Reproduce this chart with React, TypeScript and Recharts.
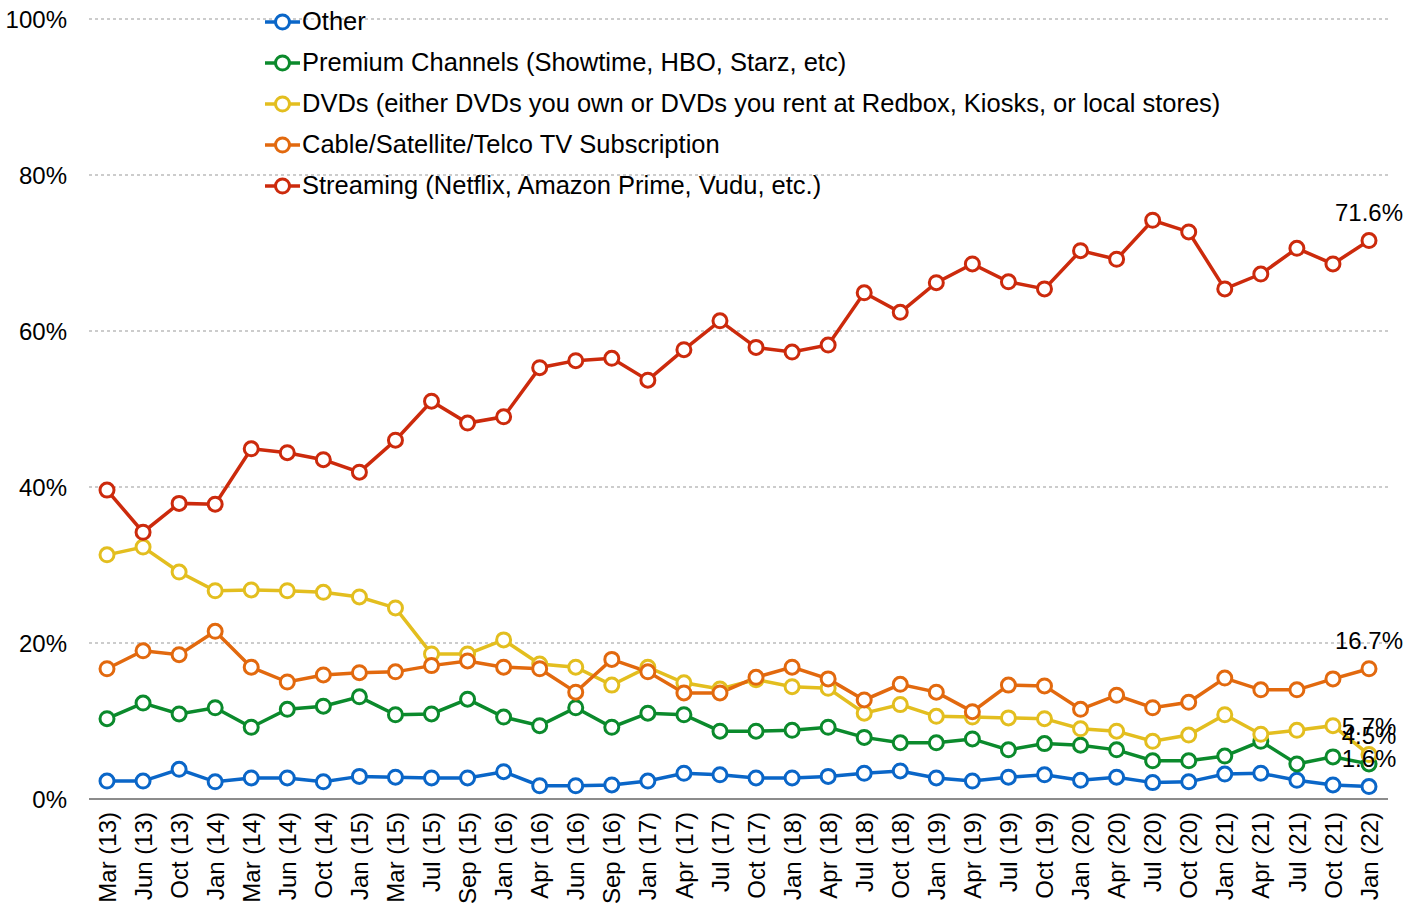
import React from 'react';
import { LineChart, Line, XAxis, YAxis, CartesianGrid } from 'recharts';

const categories = [
  'Mar (13)', 'Jun (13)', 'Oct (13)', 'Jan (14)', 'Mar (14)', 'Jun (14)', 'Oct (14)', 'Jan (15)', 'Mar (15)',
  'Jul (15)', 'Sep (15)', 'Jan (16)', 'Apr (16)', 'Jun (16)', 'Sep (16)', 'Jan (17)', 'Apr (17)', 'Jul (17)',
  'Oct (17)', 'Jan (18)', 'Apr (18)', 'Jul (18)', 'Oct (18)', 'Jan (19)', 'Apr (19)', 'Jul (19)', 'Oct (19)',
  'Jan (20)', 'Apr (20)', 'Jul (20)', 'Oct (20)', 'Jan (21)', 'Apr (21)', 'Jul (21)', 'Oct (21)', 'Jan (22)',
];

const other = [
  2.3, 2.3, 3.8, 2.2, 2.7, 2.7, 2.2, 2.9, 2.8, 2.7, 2.7, 3.5, 1.7, 1.7, 1.8, 2.3, 3.3, 3.1,
  2.7, 2.7, 2.9, 3.3, 3.6, 2.7, 2.3, 2.8, 3.1, 2.4, 2.8, 2.1, 2.2, 3.2, 3.3, 2.4, 1.8, 1.6,
];

const premium = [
  10.3, 12.3, 10.9, 11.7, 9.2, 11.5, 11.9, 13.1, 10.8, 10.9, 12.8, 10.5, 9.4, 11.7, 9.2, 11.0, 10.8, 8.7,
  8.7, 8.8, 9.2, 7.9, 7.2, 7.2, 7.7, 6.3, 7.1, 6.9, 6.3, 4.9, 4.9, 5.5, 7.4, 4.5, 5.4, 4.5,
];

const dvds = [
  31.3, 32.3, 29.1, 26.7, 26.8, 26.7, 26.5, 25.9, 24.5, 18.6, 18.6, 20.4, 17.3, 16.9, 14.6, 16.9, 14.9, 14.1,
  15.3, 14.4, 14.2, 11.0, 12.1, 10.6, 10.5, 10.4, 10.3, 9.0, 8.7, 7.4, 8.2, 10.8, 8.3, 8.8, 9.4, 5.7,
];

const cable = [
  16.7, 19.0, 18.5, 21.5, 16.9, 15.0, 15.9, 16.2, 16.3, 17.1, 17.7, 16.9, 16.7, 13.7, 17.9, 16.3, 13.6, 13.6,
  15.6, 16.9, 15.4, 12.7, 14.7, 13.7, 11.2, 14.6, 14.5, 11.5, 13.3, 11.7, 12.4, 15.5, 14.0, 14.0, 15.4, 16.7,
];

const streaming = [
  39.6, 34.2, 37.9, 37.8, 44.9, 44.4, 43.5, 41.9, 46.0, 51.0, 48.2, 49.0, 55.3, 56.2, 56.5, 53.7, 57.6, 61.3,
  57.9, 57.3, 58.2, 64.9, 62.4, 66.2, 68.6, 66.3, 65.4, 70.3, 69.2, 74.2, 72.7, 65.4, 67.3, 70.6, 68.6, 71.6,
];

const yTicks = [0, 20, 40, 60, 80, 100];

const series = [
  { key: 'other', name: 'Other', color: '#0A66C8', values: other },
  { key: 'premium', name: 'Premium Channels (Showtime, HBO, Starz, etc)', color: '#0B8A2C', values: premium },
  { key: 'dvds', name: 'DVDs (either DVDs you own or DVDs you rent at Redbox, Kiosks, or local stores)', color: '#E3BE1F', values: dvds },
  { key: 'cable', name: 'Cable/Satellite/Telco TV Subscription', color: '#E2690E', values: cable },
  { key: 'streaming', name: 'Streaming (Netflix, Amazon Prime, Vudu, etc.)', color: '#CC2A0C', values: streaming },
];

const data = categories.map((name, i) => {
  const row: Record<string, any> = { name };
  series.forEach((s) => { row[s.key] = s.values[i]; });
  return row;
});

const FONT = 'Arial, "Liberation Sans", sans-serif';

const XTick = ({ x, y, payload }: any) => (
  <g transform={`translate(${x},${y})`}>
    <text transform="rotate(-90)" x={-13} dy="0.36em" textAnchor="end" fontSize={24} fill="#000" fontFamily={FONT}>
      {payload.value}
    </text>
  </g>
);

const EndLabel = ({ x, y, index, value }: any) => {
  if (index !== categories.length - 1) return null;
  return (
    <text x={x} y={y - 20} textAnchor="middle" fontSize={24} fill="#000" fontFamily={FONT}>
      {`${Number(value).toFixed(1)}%`}
    </text>
  );
};

const App = () => {
  return (
    <div style={{ position: 'absolute', left: 0, top: 0, width: 1419, height: 909, background: '#fff', fontFamily: FONT }}>
      <LineChart width={1419} height={909} data={data} margin={{ top: 19, right: 31, bottom: 0, left: 0 }}>
        <CartesianGrid vertical={false} stroke="#999" strokeDasharray="3 3" />
        <XAxis
          dataKey="name"
          interval={0}
          height={110}
          padding={{ left: 18, right: 19 }}
          tickLine={false}
          tickSize={0}
          tickMargin={0}
          axisLine={{ stroke: '#8c8c8c', strokeWidth: 2 }}
          tick={<XTick />}
        />
        <YAxis
          domain={[0, 100]}
          ticks={yTicks}
          width={89}
          tickLine={false}
          axisLine={false}
          tickSize={0}
          tickMargin={22}
          tickFormatter={(v: number) => `${v}%`}
          tick={{ fontSize: 24, fill: '#000', fontFamily: FONT }}
        />
        {series.map((s) => (
          <Line
            key={s.key}
            dataKey={s.key}
            name={s.name}
            stroke={s.color}
            strokeWidth={3.5}
            dot={{ r: 7, fill: '#fff', stroke: s.color, strokeWidth: 3 }}
            isAnimationActive={false}
            label={<EndLabel />}
          />
        ))}
      </LineChart>

      {/* Legend */}
      <div style={{ position: 'absolute', left: 265, top: 1, display: 'flex', flexDirection: 'column' }}>
        {series.map((s) => (
          <div key={s.key} style={{ display: 'flex', alignItems: 'center', height: 41, fontSize: 25.5, color: '#000' }}>
            <svg width={36} height={20} style={{ flexShrink: 0 }}>
              <line x1={0} y1={10} x2={35} y2={10} stroke={s.color} strokeWidth={3.5} />
              <circle cx={17.5} cy={10} r={7} fill="#fff" stroke={s.color} strokeWidth={3} />
            </svg>
            <span style={{ marginLeft: 1, whiteSpace: 'nowrap' }}>{s.name}</span>
          </div>
        ))}
      </div>
    </div>
  );
};

export default App;
